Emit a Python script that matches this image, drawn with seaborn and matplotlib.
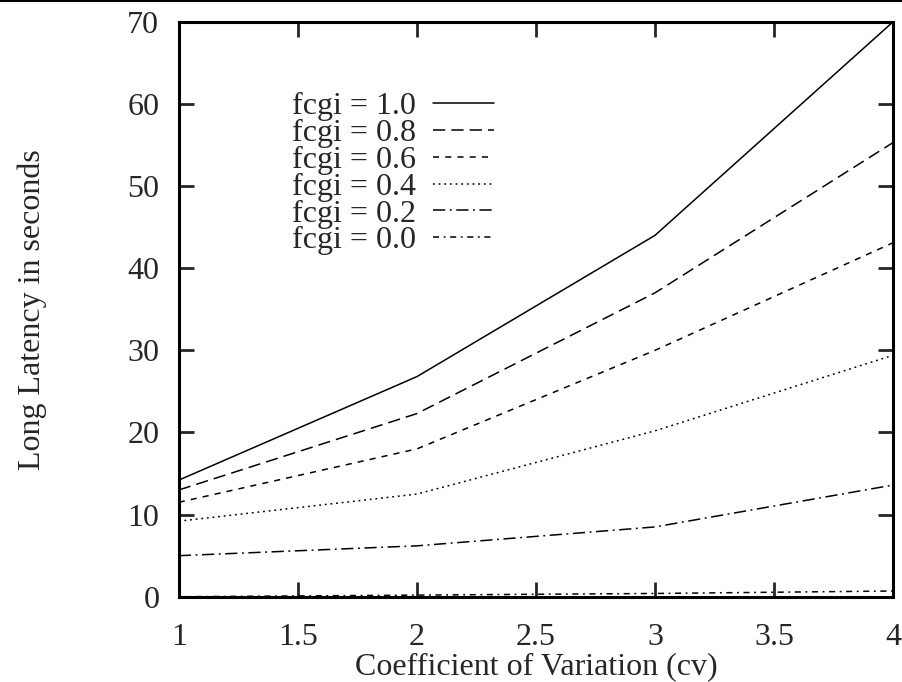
import matplotlib
matplotlib.use("Agg")
import matplotlib.pyplot as plt
from matplotlib.lines import Line2D
import seaborn as sns
import pandas as pd

# valores
cv = [1, 2, 3, 4]
fcgi_labels = ["fcgi = 1.0", "fcgi = 0.8", "fcgi = 0.6", "fcgi = 0.4", "fcgi = 0.2", "fcgi = 0.0"]
lat_10 = [14.2, 26.8, 44.0, 70.0]
lat_08 = [13.0, 22.3, 37.0, 55.3]
lat_06 = [11.5, 18.0, 30.0, 43.1]
lat_04 = [9.2, 12.5, 20.2, 29.4]
lat_02 = [5.0, 6.2, 8.5, 13.6]
lat_00 = [0.0, 0.2, 0.4, 0.7]
series = [lat_10, lat_08, lat_06, lat_04, lat_02, lat_00]

linhas = []
for rotulo, valores in zip(fcgi_labels, series):
    for x, y in zip(cv, valores):
        linhas.append({"cv": x, "latencia": y, "fcgi": rotulo})
df = pd.DataFrame(linhas)

sns.set_style("white")
plt.rcParams['font.family'] = ['Liberation Serif', 'DejaVu Serif']

estilos = {
    "fcgi = 1.0": "",
    "fcgi = 0.8": (8, 4),
    "fcgi = 0.6": (4, 4),
    "fcgi = 0.4": (1.2, 2.5),
    "fcgi = 0.2": (8, 3, 1.2, 3),
    "fcgi = 0.0": (4, 3, 1.2, 3),
}
cores = {r: "black" for r in fcgi_labels}

fig, ax = plt.subplots(figsize=(9.03, 6.82), dpi=100)
fig.subplots_adjust(left=0.198, right=0.989, top=0.968, bottom=0.125)

sns.lineplot(data=df, x="cv", y="latencia", hue="fcgi", style="fcgi",
             hue_order=fcgi_labels, style_order=fcgi_labels,
             palette=cores, dashes=estilos, linewidth=1.1, ax=ax)

ax.set_xlim(1, 4)
ax.set_ylim(0, 70)
ax.set_xticks([1, 1.5, 2, 2.5, 3, 3.5, 4])
ax.set_xticklabels(["1", "1.5", "2", "2.5", "3", "3.5", "4"])
ax.set_yticks(range(0, 71, 10))
ax.tick_params(direction="in", length=11, width=2, labelsize=23,
               top=True, right=True, bottom=True, left=True)
ax.tick_params(axis="x", pad=19)
ax.tick_params(axis="y", pad=14)
for s in ax.spines.values():
    s.set_visible(True)
    s.set_linewidth(2.2)
    s.set_color("black")

ax.set_xlabel("Coefficient of Variation (cv)", fontsize=23, labelpad=0)
ax.set_ylabel("Long Latency in seconds", fontsize=23, labelpad=58)

handles, labels = ax.get_legend_handles_labels()
ax.legend(handles, labels, loc="upper left", bbox_to_anchor=(0.14, 0.9),
          frameon=False, markerfirst=False, fontsize=23, handlelength=1.9,
          handletextpad=0.56, labelspacing=-0.08, borderaxespad=0)

fig.add_artist(Line2D([0, 1], [0.998, 0.998], transform=fig.transFigure,
                      color="black", linewidth=1.5))

plt.savefig("out.png", dpi=100)
